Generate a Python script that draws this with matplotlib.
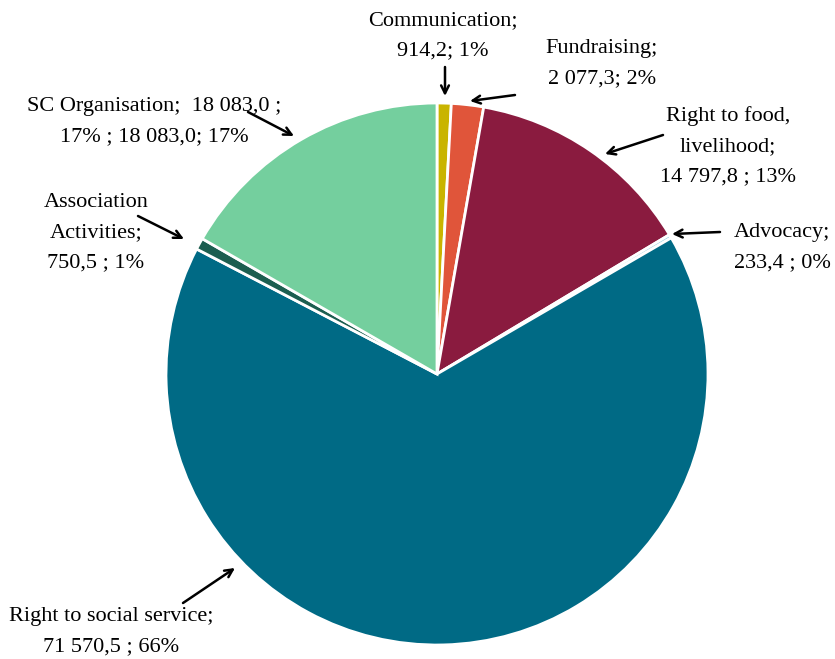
import matplotlib
matplotlib.use('Agg')
import matplotlib.pyplot as plt

# budget breakdown, clockwise from the top
categories = ['Communication', 'Fundraising', 'Right to food, livelihood', 'Advocacy',
              'Right to social service', 'Association Activities', 'SC Organisation']
values     = [914.2, 2077.3, 14797.8, 233.4, 71570.5, 750.5, 18083.0]
colours    = ['#C9B400', '#E0553A', '#8A1B3F', '#9FD4E2', '#006A85', '#1C5E50', '#74CF9E']
labels     = ['Communication;\n914,2; 1%',
              'Fundraising;\n2 077,3; 2%',
              'Right to food,\nlivelihood;\n14 797,8 ; 13%',
              'Advocacy;\n233,4 ; 0%',
              'Right to social service;\n71 570,5 ; 66%',
              'Association\nActivities;\n750,5 ; 1%',
              'SC Organisation;  18 083,0 ;\n17% ; 18 083,0; 17%']

W, H = 835, 659
fig = plt.figure(figsize=(W/100, H/100), dpi=100)
ax = fig.add_axes([0, 0, 1, 1])

cx, cy, r = 437, H-374, 271
ax.pie(values, colors=colours, startangle=90, counterclock=False,
       center=(cx, cy), radius=r, frame=True,
       wedgeprops=dict(edgecolor='white', linewidth=2))
ax.set_xlim(0, W)
ax.set_ylim(0, H)
ax.set_aspect('equal')
ax.axis('off')

# text anchor (pixels, top-left origin), alignment, arrow start, arrow end
placement = [
    ((443, 36),  'center', (445, 67),  (445, 96)),
    ((602, 64),  'center', (515, 95),  (470, 101)),
    ((728, 146), 'center', (663, 135), (605, 154)),
    ((831, 248), 'right',  (720, 232), (672, 234)),
    ((111, 632), 'center', (183, 603), (235, 568)),
    ((96, 233),  'center', (138, 216), (184, 239)),
    ((154, 122), 'center', (248, 112), (294, 136)),
]

font = dict(family='Liberation Serif', size=16)
for lab, (pos, ha, start, end) in zip(labels, placement):
    ax.text(pos[0], H-pos[1], lab, ha=ha, va='center', linespacing=1.8,
            multialignment='left' if ha == 'right' else 'center', **font)
    ax.annotate('', xy=(end[0], H-end[1]), xytext=(start[0], H-start[1]),
                arrowprops=dict(arrowstyle='->', color='black', lw=1.8,
                                mutation_scale=14, shrinkA=0, shrinkB=0))

fig.savefig('out.png', dpi=100)
